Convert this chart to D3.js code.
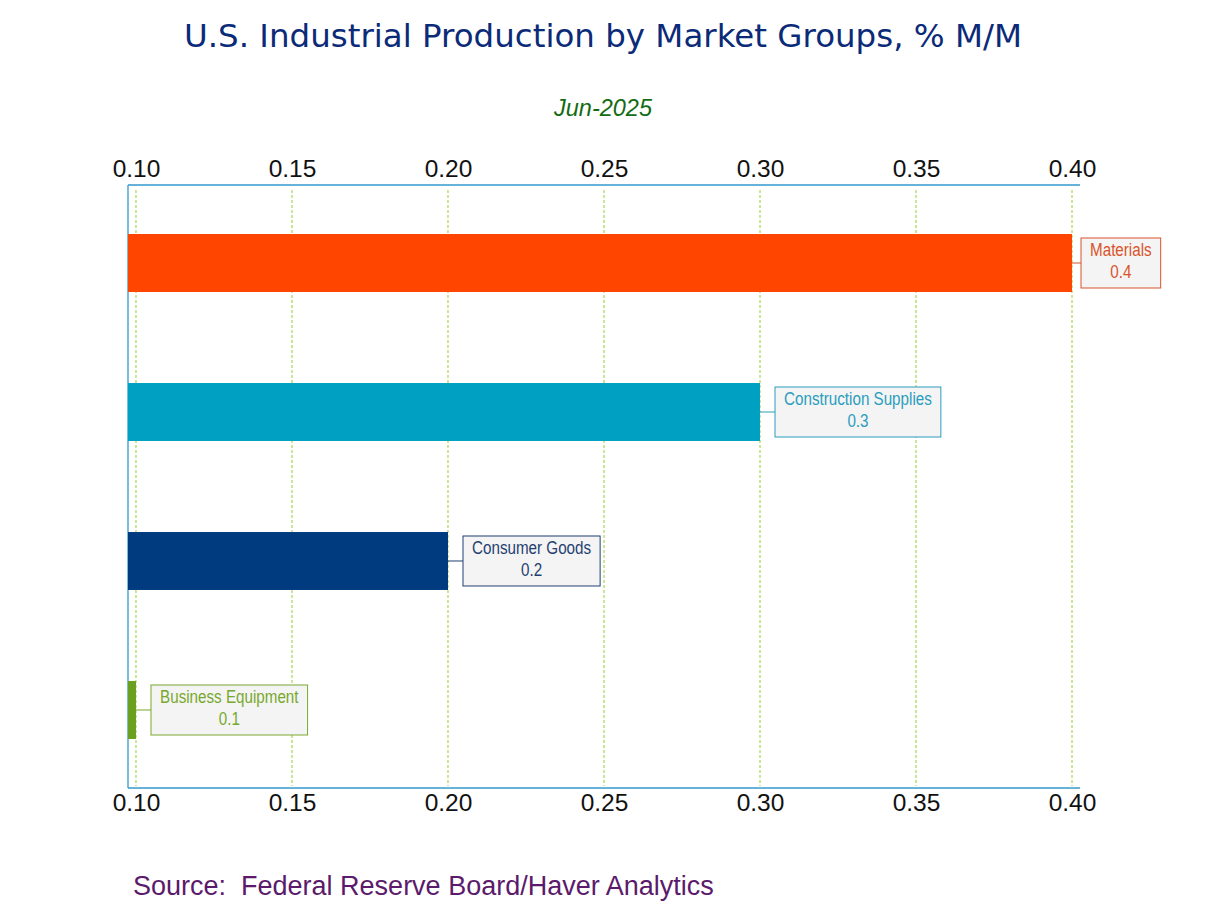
<!DOCTYPE html>
<html><head><meta charset="utf-8">
<script src="https://cdn.jsdelivr.net/npm/d3@7"></script>
<style>
body{margin:0;background:#fff;}
svg text{white-space:pre;}
</style>
</head><body>
<svg id="chart" width="1208" height="906"></svg>
<script>
const categories = ["Materials", "Construction Supplies", "Consumer Goods", "Business Equipment"];
const values = [0.4, 0.3, 0.2, 0.1];
const valueLabels = ["0.4", "0.3", "0.2", "0.1"];
const barColors = ["#ff4500", "#00a0c2", "#003b80", "#6a9f1f"];
const labelColors = ["#d9532a", "#2b9dbd", "#1f3f72", "#78a82e"];
const tickValues = [0.10, 0.15, 0.20, 0.25, 0.30, 0.35, 0.40];
const titleText = "U.S. Industrial Production by Market Groups, % M/M";
const subtitleText = "Jun-2025";
const sourceText = "Source:  Federal Reserve Board/Haver Analytics";

const svg = d3.select("#chart");
const W = 1208, H = 906;
const plot = {left:128, right:1080, top:185, bottom:788};

const x = d3.scaleLinear().domain([0.09744, 0.40256]).range([plot.left, plot.right]);
const y = d3.scaleBand().domain(categories).range([plot.top, plot.bottom]).paddingInner(0.611).paddingOuter(0.329);

svg.append("rect").attr("width", W).attr("height", H).attr("fill", "#fff");

// title
svg.append("text").attr("x", 603).attr("y", 47).attr("text-anchor", "middle")
  .attr("font-family", "'DejaVu Sans', Verdana, sans-serif").attr("font-size", 32)
  .attr("fill", "#0b2a78").attr("textLength", 838).attr("lengthAdjust", "spacingAndGlyphs")
  .text(titleText);
svg.append("text").attr("x", 603).attr("y", 116).attr("text-anchor", "middle")
  .attr("font-family", "'Liberation Sans', Arial, sans-serif").attr("font-size", 23.5)
  .attr("font-style", "italic").attr("fill", "#136b13").text(subtitleText);

// gridlines
svg.append("g").selectAll("line").data(tickValues).join("line")
  .attr("x1", d => x(d)).attr("x2", d => x(d))
  .attr("y1", plot.top + 5).attr("y2", plot.bottom - 2)
  .attr("stroke", "#9acd32").attr("stroke-width", 1).attr("stroke-dasharray", "3,2");

// axes
const fmt = d3.format(".2f");
const topAxis = d3.axisTop(x).tickValues(tickValues).tickFormat(fmt).tickSize(0).tickPadding(8);
const botAxis = d3.axisBottom(x).tickValues(tickValues).tickFormat(fmt).tickSize(0).tickPadding(6);
const gt = svg.append("g").attr("transform", `translate(0,${plot.top})`).call(topAxis);
const gb = svg.append("g").attr("transform", `translate(0,${plot.bottom})`).call(botAxis);
[gt, gb].forEach(g => {
  g.select(".domain").remove();
  g.selectAll("text").attr("font-family", "'Liberation Sans', Arial, sans-serif")
    .attr("font-size", 24.5).attr("fill", "#111");
});

// frame lines
const frame = svg.append("g").attr("stroke", "#3399cc").attr("stroke-width", 1.3);
frame.append("line").attr("x1", plot.left).attr("x2", plot.right).attr("y1", plot.top).attr("y2", plot.top);
frame.append("line").attr("x1", plot.left).attr("x2", plot.right).attr("y1", plot.bottom).attr("y2", plot.bottom);
frame.append("line").attr("x1", plot.left).attr("x2", plot.left).attr("y1", plot.top).attr("y2", plot.bottom);

// bars
svg.append("g").selectAll("rect").data(categories).join("rect")
  .attr("x", x.range()[0]).attr("y", d => y(d))
  .attr("width", (d, i) => x(values[i]) - x.range()[0])
  .attr("height", y.bandwidth())
  .attr("fill", (d, i) => barColors[i]);

// labels
const lab = svg.append("g");
const sx = 0.8;
const labFont = "'Liberation Sans Narrow', 'Arial Narrow', 'Liberation Sans', sans-serif";
categories.forEach((c, i) => {
  const end = x(values[i]);
  const cy = y(c) + y.bandwidth() / 2;
  const g = lab.append("g");
  const t1 = g.append("text").attr("text-anchor", "middle")
    .attr("font-family", labFont).attr("font-size", 19).attr("fill", labelColors[i]).text(c);
  const t2 = g.append("text").attr("text-anchor", "middle")
    .attr("font-family", labFont).attr("font-size", 19).attr("fill", labelColors[i]).text(valueLabels[i]);
  const tw = t1.node().getComputedTextLength() * sx;
  const bw = tw + 18, bh = 50;
  let bx = end + 15;
  if (end + 15 > plot.right - 10) bx = end + 9;
  const by = cy - bh / 2;
  g.insert("line", "text").attr("x1", end).attr("x2", bx).attr("y1", cy).attr("y2", cy)
    .attr("stroke", labelColors[i]).attr("stroke-width", 1);
  g.insert("rect", "text").attr("x", bx).attr("y", by).attr("width", bw).attr("height", bh)
    .attr("fill", "#f4f4f4").attr("stroke", labelColors[i]).attr("stroke-width", 1);
  t1.attr("transform", `translate(${bx + bw / 2},${by + 18}) scale(${sx},1)`);
  t2.attr("transform", `translate(${bx + bw / 2},${by + 40}) scale(${sx},1)`);
});

// source
svg.append("text").attr("x", 133).attr("y", 895)
  .attr("font-family", "'Liberation Sans', Arial, sans-serif").attr("font-size", 27)
  .attr("fill", "#5b1a6b").text(sourceText);
</script>
</body></html>
